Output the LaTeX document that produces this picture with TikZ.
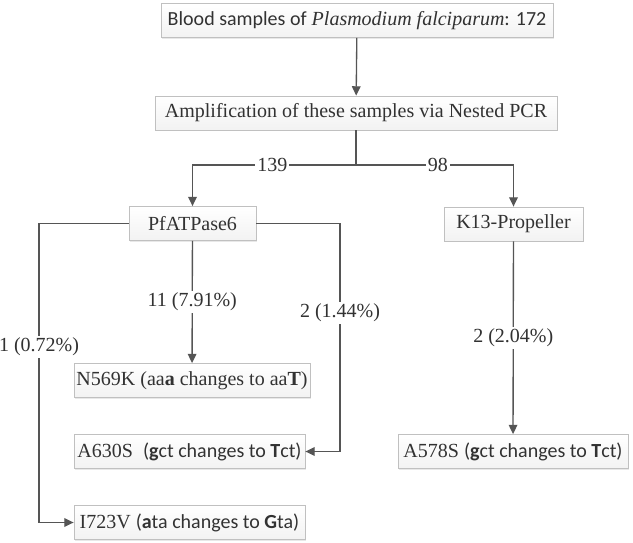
\documentclass[tikz,border=0pt]{standalone}
\usepackage{fontspec}
\setmainfont{Liberation Serif}
\newfontfamily\carlito{Carlito}
\usetikzlibrary{arrows.meta,shadows}
\definecolor{flowline}{RGB}{85,85,85}
\definecolor{flowtext}{RGB}{50,50,50}
\definecolor{flowedge}{RGB}{192,192,192}

\begin{document}
\begin{tikzpicture}[x=0.75pt, y=-0.75pt,
      box/.style={rectangle, draw=flowedge, line width=0.6pt, top color=white, bottom color=gray!10, minimum height=25.5pt, inner sep=0pt, font=\fontsize{15}{17}\selectfont, text=flowtext, drop shadow={opacity=0.18, shadow xshift=1pt, shadow yshift=-1pt}},
      lab/.style={fill=white, inner sep=1.5pt, font=\fontsize{15}{17}\selectfont, text=flowtext},
      arr/.style={-{Triangle[length=7pt, width=6.5pt]}, line width=1pt, color=flowline}
    ]
      \useasboundingbox (0,0) rectangle (633,543);

      % Top: samples and PCR
      \node[box, minimum width=294pt] (blood) at (357, 20.5) {{\carlito Blood samples of} \textit{Plasmodium falciparum}{\carlito : 172}};
      \node[box, minimum width=301.5pt] (amp) at (356, 113) {Amplification of these samples via Nested PCR};

      % Middle: genes
      \node[box, minimum width=95.25pt] (pfat) at (192.5, 223.5) {PfATPase6};
      \node[box, minimum width=104.25pt] (k13) at (513.5, 224) {K13-Propeller};

      % Bottom: mutations
      \node[box, minimum width=177pt] (n569) at (192, 380.5) {N569K (aa\textbf{a} changes to aa\textbf{T})};
      \node[box, minimum width=173.25pt] (a630) at (189.5, 451.5) {A630S\ \ {\carlito(\textbf{g}ct changes to \textbf{T}ct)}};
      \node[box, minimum width=173.25pt] (i723) at (189.5, 522.5) {I723V {\carlito(\textbf{a}ta changes to \textbf{G}ta)}};
      \node[box, minimum width=172.5pt] (a578) at (513, 451.5) {A578S {\carlito(\textbf{g}ct changes to \textbf{T}ct)}};

      % Corners
      \coordinate (split) at (356, 165);
      \coordinate (lcorner) at (39, 223.5);
      \coordinate (rcorner) at (340, 223.5);

      % Paths
      \draw[arr] (blood) -- (amp);
      \draw[line width=1pt, color=flowline] (amp.south) -- (split);
      \draw[arr] (split) -| (pfat.north) node[lab, pos=0.256]{139};
      \draw[arr] (split) -| (k13.north) node[lab, pos=0.26]{98};
      \draw[arr] (pfat) -- (n569) node[lab, midway]{11 (7.91\%)};
      \draw[arr] (pfat.east) -- (rcorner) |- (a630.east) node[lab, pos=0.196]{2 (1.44\%)};
      \draw[arr] (pfat.west) -- (lcorner) |- (i723.west) node[lab, pos=0.206]{1 (0.72\%)};
      \draw[arr] (k13) -- (a578) node[lab, midway]{2 (2.04\%)};
    \end{tikzpicture}
\end{document}
